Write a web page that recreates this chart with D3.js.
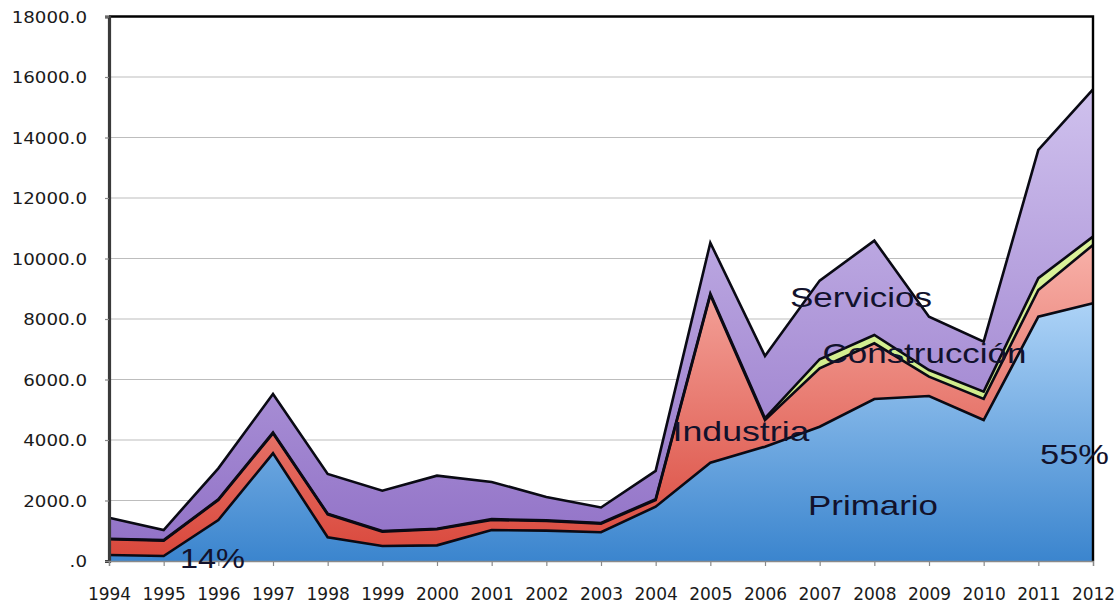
<!DOCTYPE html>
<html>
<head>
<meta charset="utf-8">
<script src="https://cdn.jsdelivr.net/npm/d3@7"></script>
<style>
  html, body { margin: 0; padding: 0; background: #fff; }
  svg { display: block; }
</style>
</head>
<body>
<svg id="chart" width="1119" height="603"></svg>
<script>
// Years on the category axis
const years = [1994, 1995, 1996, 1997, 1998, 1999, 2000, 2001, 2002, 2003,
               2004, 2005, 2006, 2007, 2008, 2009, 2010, 2011, 2012];

// Values per sector (stacked, bottom to top)
const primario     = [198, 165, 1355, 3560, 783, 496, 518, 1025, 1003, 950,
                      1796, 3250, 3780, 4440, 5356, 5455, 4661, 8077, 8519];
const industria    = [519, 507, 662, 660, 760, 474, 529, 330, 319, 285,
                      221, 5544, 881, 1930, 1841, 639, 699, 883, 1928];
const construccion = [20, 20, 20, 30, 20, 20, 20, 30, 20, 20,
                      30, 40, 60, 300, 275, 220, 240, 390, 275];
const servicios    = [695, 333, 1027, 1270, 1313, 1335, 1754, 1227, 774, 515,
                      933, 1686, 2056, 2600, 3118, 1762, 1650, 4240, 4872];

const seriesKeys = ["Primario", "Industria", "Construcción", "Servicios"];
const yTicks = [0, 2000, 4000, 6000, 8000, 10000, 12000, 14000, 16000, 18000];

const rows = years.map((yr, i) => ({
  year: yr,
  "Primario": primario[i],
  "Industria": industria[i],
  "Construcción": construccion[i],
  "Servicios": servicios[i]
}));

const svg = d3.select("#chart");
const plotLeft = 109, plotRight = 1093, plotTop = 16.5, plotBottom = 561;

const x = d3.scalePoint().domain(years).range([plotLeft, plotRight]);
const y = d3.scaleLinear().domain([0, 18000]).range([plotBottom, plotTop]);

// Vertical gradients for each sector fill
const defs = svg.append("defs");
const grads = {
  "Primario":     ["#b0d5f8", "#3b85ce"],
  "Industria":    ["#f8b2aa", "#d9463a"],
  "Construcción": ["#dcf39c", "#c4e67a"],
  "Servicios":    ["#d0c2ee", "#9070c6"]
};
const gradTop = { "Primario": y(8800), "Industria": y(10600), "Construcción": y(10800), "Servicios": y(15800) };
seriesKeys.forEach((k, i) => {
  const g = defs.append("linearGradient")
    .attr("id", "g" + i)
    .attr("gradientUnits", "userSpaceOnUse")
    .attr("x1", 0).attr("x2", 0)
    .attr("y1", gradTop[k]).attr("y2", plotBottom);
  g.append("stop").attr("offset", "0%").attr("stop-color", grads[k][0]);
  g.append("stop").attr("offset", "100%").attr("stop-color", grads[k][1]);
});

// Horizontal gridlines
svg.append("g")
  .selectAll("line")
  .data(yTicks.filter(d => d > 0 && d < 18000))
  .join("line")
  .attr("x1", plotLeft).attr("x2", plotRight)
  .attr("y1", d => y(d)).attr("y2", d => y(d))
  .attr("stroke", "#bdbdbd").attr("stroke-width", 1.2);

// Stacked areas
const stacked = d3.stack().keys(seriesKeys)(rows);

const area = d3.area()
  .x(d => x(d.data.year))
  .y0(d => y(d[0]))
  .y1(d => y(d[1]));

svg.append("g")
  .selectAll("path")
  .data(stacked)
  .join("path")
  .attr("d", area)
  .attr("fill", (d, i) => `url(#g${i})`);

// Dark outline along the top of each layer
const topLine = d3.line()
  .x(d => x(d.data.year))
  .y(d => y(d[1]));

svg.append("g")
  .selectAll("path")
  .data(stacked)
  .join("path")
  .attr("d", topLine)
  .attr("fill", "none")
  .attr("stroke", "#0a0a14")
  .attr("stroke-width", 2.6)
  .attr("stroke-linejoin", "miter");

// Plot frame: top and right edges
svg.append("path")
  .attr("d", `M${plotLeft},${plotTop}H${plotRight}V${plotBottom}`)
  .attr("fill", "none")
  .attr("stroke", "#000")
  .attr("stroke-width", 2.4);

// Y axis
const yAxis = svg.append("g")
  .attr("transform", `translate(${plotLeft},0)`)
  .call(d3.axisLeft(y)
    .tickValues(yTicks)
    .tickSize(4)
    .tickPadding(0)
    .tickFormat(d => d === 0 ? ".0" : d.toFixed(1)));
yAxis.select(".domain").attr("stroke", "#3a3a3a").attr("stroke-width", 3.2);
yAxis.selectAll(".tick line").attr("stroke", "#888").attr("stroke-width", 1.2);
yAxis.selectAll(".tick text")
  .attr("font-family", "'DejaVu Sans', Verdana, sans-serif")
  .attr("font-size", 16)
  .attr("fill", "#1a1a1a")
  .attr("x", -22 / 1.14)
  .attr("dy", "0.36em")
  .attr("transform", "scale(1.14,1)");

// X axis
const xAxis = svg.append("g")
  .attr("transform", `translate(0,${plotBottom})`)
  .call(d3.axisBottom(x).tickSize(5).tickPadding(0));
xAxis.select(".domain").attr("stroke", "#8a8a8a").attr("stroke-width", 1.4);
xAxis.selectAll(".tick line").attr("stroke", "#8a8a8a").attr("stroke-width", 1.2);
xAxis.selectAll(".tick text")
  .attr("font-family", "'DejaVu Sans', Verdana, sans-serif")
  .attr("font-size", 17)
  .attr("fill", "#1a1a1a")
  .attr("y", 39)
  .attr("dy", 0);

// Sector labels and shares drawn over the areas
const labels = [
  { text: "Servicios",    cx: 861,   base: 307,   w: 142 },
  { text: "Construcción", cx: 924.5, base: 363,   w: 204 },
  { text: "Industria",    cx: 741,   base: 440.5, w: 137 },
  { text: "Primario",     cx: 873,   base: 515,   w: 130 },
  { text: "55%",          cx: 1074.5, base: 464,  w: 69 },
  { text: "14%",          cx: 212.5, base: 568,   w: 65 }
];
svg.append("g")
  .selectAll("text")
  .data(labels)
  .join("text")
  .attr("x", d => d.cx - d.w / 2)
  .attr("y", d => d.base)
  .attr("textLength", d => d.w)
  .attr("lengthAdjust", "spacingAndGlyphs")
  .attr("font-family", "'Liberation Sans', Arial, sans-serif")
  .attr("font-size", 28)
  .attr("fill", "#12122c")
  .text(d => d.text);
</script>
</body>
</html>
